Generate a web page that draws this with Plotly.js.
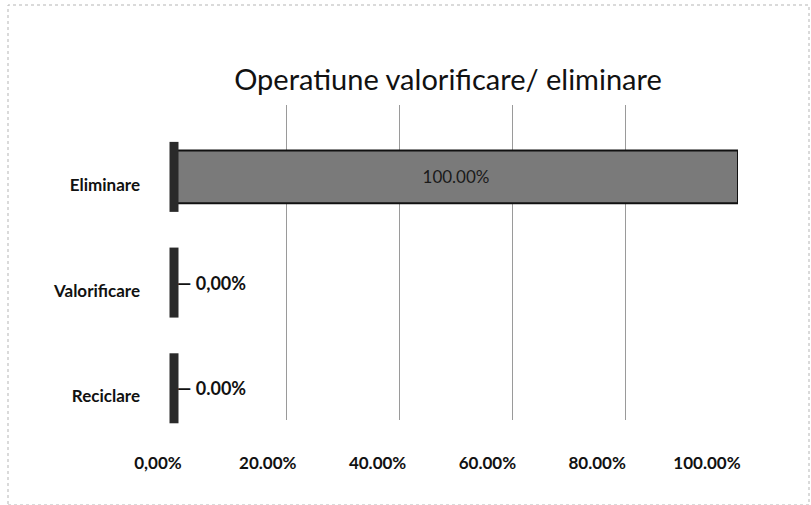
<!DOCTYPE html>
<html>
<head>
<meta charset="utf-8">
<script src="https://cdn.plot.ly/plotly-3.0.1.min.js"></script>
<style>html,body{margin:0;padding:0;background:#fff;}#chart{width:811px;height:505px;}</style>
</head>
<body>
<div id="chart"></div>
<script>
// Data
const categories = ["Reciclare", "Valorificare", "Eliminare"];
const values = [0, 0, 1];
const tickValues = [0, 0.2, 0.4, 0.6, 0.8, 1];
const tickLabels = ["0,00%", "20.00%", "40.00%", "60.00%", "80.00%", "100.00%"];
const valueLabels = ["0.00%", "0,00%", "100.00%"];
const base = 0;

const W = 811, H = 505;
const px = v => v / W;
const py = v => 1 - v / H;
const font = "Lato, 'Open Sans', sans-serif";

const textPos = values.map(v => v > 0 ? "inside" : "outside");
const barText = values.map((v, i) => (v > 0 ? "" : "\u2014\u00a0") + valueLabels[i]);

const traces = [
  {
    type: "bar",
    orientation: "h",
    x: values,
    y: categories,
    width: 0.5,
    text: barText,
    textposition: textPos,
    insidetextanchor: "middle",
    insidetextfont: {family: font, size: 17, color: "#1a1a1a"},
    outsidetextfont: {family: font, size: 18, color: "#111", weight: "bold"},
    cliponaxis: false,
    constraintext: "none",
    marker: {color: "#7a7a7a", line: {color: "#111", width: 2}},
    hoverinfo: "skip"
  },
  {
    type: "scatter",
    mode: "markers",
    x: categories.map(() => base),
    y: categories,
    marker: {symbol: "line-ns", size: 50, line: {color: "#2a2a2a", width: 9}},
    cliponaxis: false,
    hoverinfo: "skip"
  },
  {
    type: "scatter",
    mode: "none",
    x: values,
    y: categories,
    xaxis: "x2",
    yaxis: "y",
    hoverinfo: "skip"
  }
];

const layout = {
  width: W, height: H,
  margin: {l: 0, r: 0, t: 0, b: 0},
  paper_bgcolor: "#ffffff",
  plot_bgcolor: "rgba(0,0,0,0)",
  showlegend: false,
  title: {
    text: "Operatiune valorificare/ eliminare",
    x: px(448), xanchor: "center",
    y: py(80), yanchor: "middle",
    font: {family: font, size: 29, color: "#111"}
  },
  xaxis: {
    domain: [px(174), px(738)],
    range: [0, 1],
    tickvals: tickValues,
    showticklabels: false,
    showgrid: true,
    gridcolor: "#9a9a9a",
    gridwidth: 1,
    zeroline: false,
    showline: false,
    ticks: "",
    fixedrange: true
  },
  xaxis2: {
    domain: [px(158), px(707)],
    range: [0, 1],
    anchor: "free",
    position: py(451),
    tickvals: tickValues,
    ticktext: tickLabels,
    showgrid: false,
    zeroline: false,
    showline: false,
    ticks: "",
    tickfont: {family: font, size: 17, color: "#111", weight: "bold"},
    fixedrange: true
  },
  yaxis: {
    domain: [py(420), py(105)],
    range: [-0.3, 2.68],
    type: "category",
    categoryorder: "array",
    categoryarray: categories,
    showgrid: false,
    zeroline: false,
    showline: false,
    ticks: "",
    ticklabelstandoff: 33,
    ticklabelshift: 8,
    tickfont: {family: font, size: 17, color: "#111", weight: "bold"},
    fixedrange: true,
    automargin: false
  },
  shapes: [
    {type: "rect", xref: "paper", yref: "paper", x0: px(8), x1: px(809), y0: 0, y1: py(5),
     line: {color: "#b5b5b5", width: 1, dash: "dot"}, fillcolor: "rgba(0,0,0,0)", layer: "below"}
  ]
};

Plotly.newPlot("chart", traces, layout, {displayModeBar: false, staticPlot: true});
</script>
</body>
</html>
